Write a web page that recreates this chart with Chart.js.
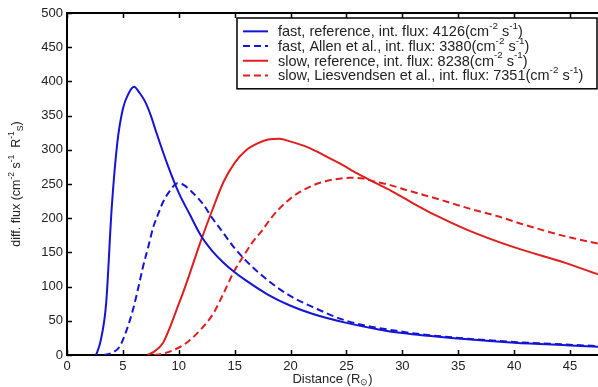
<!DOCTYPE html>
<html>
<head>
<meta charset="utf-8">
<script src="https://cdn.jsdelivr.net/npm/chart.js@4/dist/chart.umd.min.js"></script>
<style>
  html, body { margin: 0; padding: 0; background: #fff; }
  #wrap { width: 598px; height: 387px; position: relative; }
</style>
</head>
<body>
<div id="wrap"><canvas id="chart-canvas"></canvas></div>
<script>
// Tick labels
const X_TICKS = [0, 5, 10, 15, 20, 25, 30, 35, 40, 45];
const Y_TICKS = [0, 50, 100, 150, 200, 250, 300, 350, 400, 450, 500];

// fast wind, reference
const fastRefX = [2.6, 3.0, 3.5, 4.0, 4.5, 5.0, 5.5, 6.0, 6.5, 7.0, 7.5, 8.0, 9.0, 10, 11, 12, 13, 14, 15, 16, 18, 20, 22, 25, 28, 30, 35, 40, 45, 47.5];
const fastRefY = [0, 20, 75, 215, 310, 360, 382, 392, 383, 370, 350, 325, 278, 237, 205, 174, 152, 135, 121, 109, 88, 72, 60, 47, 37, 32, 24, 18, 14, 12];

// fast wind, Allen et al.
const fastAllenX = [3.3, 4.0, 4.7, 5.3, 5.9, 6.4, 6.8, 7.3, 7.7, 8.2, 8.6, 9.2, 9.9, 10.5, 11.2, 12.2, 13, 14, 14.9, 16, 17.9, 20, 22, 25, 30, 35, 40, 45, 47.5];
const fastAllenY = [0, 3, 12, 35, 66, 100, 129, 160, 186, 208, 224, 240, 251, 248, 238, 220, 200, 178, 158, 138, 110, 86, 70, 50, 34, 25, 19, 15, 13];

// slow wind, reference
const slowRefX = [7.2, 7.8, 8.6, 9.2, 9.8, 10.4, 11, 12, 13, 14, 15, 16, 17, 18, 19, 20, 21.5, 23, 24.4, 26, 27.4, 29, 30.4, 33, 35.8, 39.9, 44.7, 47.5];
const slowRefY = [0, 5, 18, 40, 66, 92, 120, 168, 212, 253, 281, 299, 309, 315, 316, 312, 304, 292, 280, 265, 253, 240, 227, 204, 183, 158, 134, 118];

// slow wind, Liesvendsen et al.
const slowLiesX = [7.8, 8.3, 9.5, 10.7, 12, 13.1, 14, 14.9, 15.8, 16.6, 17.5, 18.2, 19, 20, 20.8, 22, 22.9, 24, 25.3, 26.5, 27.4, 29, 30.4, 33.4, 36, 38.7, 41, 44.7, 47.5];
const slowLiesY = [0, 1, 7, 18, 38, 61, 90, 121, 145, 165, 183, 199, 214, 229, 238, 248, 253, 257, 259, 258, 254, 248, 241, 227, 214, 202, 190, 173, 163];

const SERIES_LABELS = [
  'fast, reference, int. flux: 4126(cm^{-2} s^{-1})',
  'fast, Allen et al., int. flux: 3380(cm^{-2} s^{-1})',
  'slow, reference, int. flux: 8238(cm^{-2} s^{-1})',
  'slow, Liesvendsen et al., int. flux: 7351(cm^{-2} s^{-1})',
];

const X_TITLE = 'Distance (R_{\u2299})';
const Y_TITLE = 'diff. flux (cm^{-2} s^{-1}  R^{-1}_{S})';

const BLUE = '#1414d6';
const RED = '#e01e1e';
const FONT = '"Liberation Sans", Arial, sans-serif';

function toPoints(xs, ys) {
  return xs.map((x, i) => ({ x, y: ys[i] }));
}

/** Draw text with ^{sup} and _{sub} parts. */
function drawRich(ctx, text, x, y, size, align) {
  const parts = text.split(/(\^\{[^}]*\}|_\{[^}]*\})/).filter(p => p !== '');
  const segs = parts.map(p => {
    if (p.startsWith('^{')) return { t: p.slice(2, -1), s: size * 0.68, dy: -size * 0.42 };
    if (p.startsWith('_{')) return { t: p.slice(2, -1), s: size * 0.68, dy: size * 0.28 };
    return { t: p, s: size, dy: 0 };
  });
  let total = 0;
  segs.forEach(sg => {
    ctx.font = `${sg.s}px ${FONT}`;
    sg.w = ctx.measureText(sg.t).width;
    total += sg.w;
  });
  let cx = align === 'center' ? x - total / 2 : x;
  ctx.textBaseline = 'middle';
  ctx.textAlign = 'left';
  segs.forEach(sg => {
    ctx.font = `${sg.s}px ${FONT}`;
    ctx.fillText(sg.t, cx, y + sg.dy);
    cx += sg.w;
  });
}

// MATLAB-like frame: top line, inward ticks, axis titles, boxed legend
const matlabFrame = {
  id: 'matlabFrame',
  afterDraw(chart, args, opts) {
    const { ctx, chartArea: ca, scales } = chart;
    ctx.save();
    ctx.strokeStyle = '#000';
    ctx.lineWidth = 2;
    ctx.beginPath();
    ctx.moveTo(ca.left - 1, ca.top);
    ctx.lineTo(ca.right, ca.top);
    ctx.stroke();

    ctx.lineWidth = 1.5;
    ctx.beginPath();
    X_TICKS.forEach(v => {
      const px = Math.round(scales.x.getPixelForValue(v)) + 0.5;
      ctx.moveTo(px, ca.bottom);
      ctx.lineTo(px, ca.bottom - 5);
      ctx.moveTo(px, ca.top);
      ctx.lineTo(px, ca.top + 5);
    });
    Y_TICKS.forEach(v => {
      const py = Math.round(scales.y.getPixelForValue(v)) + 0.5;
      ctx.moveTo(ca.left, py);
      ctx.lineTo(ca.left + 5, py);
    });
    ctx.stroke();

    // axis titles
    ctx.fillStyle = '#222';
    drawRich(ctx, X_TITLE, (ca.left + ca.right) / 2, opts.xTitleY, 13, 'center');
    ctx.save();
    ctx.translate(opts.yTitleX, (ca.top + ca.bottom) / 2);
    ctx.rotate(-Math.PI / 2);
    drawRich(ctx, Y_TITLE, 0, 0, 12.5, 'center');
    ctx.restore();

    // legend box
    const lg = opts.legend;
    const right = ca.right - 1;
    const n = chart.data.datasets.length;
    const bottom = lg.top + lg.padTop + lg.rowHeight * n + lg.padBottom;
    ctx.fillStyle = '#fff';
    ctx.fillRect(lg.left, lg.top, right - lg.left, bottom - lg.top);
    ctx.strokeStyle = '#000';
    ctx.lineWidth = 1.5;
    ctx.strokeRect(lg.left, lg.top, right - lg.left, bottom - lg.top);
    chart.data.datasets.forEach((ds, i) => {
      const cy = lg.top + lg.padTop + lg.rowHeight * (i + 0.5);
      ctx.strokeStyle = ds.borderColor;
      ctx.lineWidth = 2;
      ctx.setLineDash(ds.borderDash || []);
      ctx.beginPath();
      ctx.moveTo(lg.left + 6, cy);
      ctx.lineTo(lg.left + 31, cy);
      ctx.stroke();
      ctx.setLineDash([]);
      ctx.fillStyle = '#222';
      drawRich(ctx, ds.label, lg.left + 41, cy + 1, 14.5, 'left');
    });
    ctx.restore();
  },
};

const canvas = document.getElementById('chart-canvas');
new Chart(canvas, {
  type: 'line',
  data: {
    datasets: [
      { label: SERIES_LABELS[0], data: toPoints(fastRefX, fastRefY), borderColor: BLUE, borderDash: [] },
      { label: SERIES_LABELS[1], data: toPoints(fastAllenX, fastAllenY), borderColor: BLUE, borderDash: [7, 4] },
      { label: SERIES_LABELS[2], data: toPoints(slowRefX, slowRefY), borderColor: RED, borderDash: [] },
      { label: SERIES_LABELS[3], data: toPoints(slowLiesX, slowLiesY), borderColor: RED, borderDash: [7, 4] },
    ].map(ds => ({
      ...ds,
      backgroundColor: 'transparent',
      borderWidth: 2,
      pointRadius: 0,
      cubicInterpolationMode: 'monotone',
      fill: false,
    })),
  },
  options: {
    responsive: true,
    maintainAspectRatio: false,
    animation: false,
    devicePixelRatio: 1,
    layout: { padding: { top: 13, right: 0, left: 0, bottom: 0 } },
    plugins: {
      legend: { display: false },
      tooltip: { enabled: false },
      matlabFrame: {
        xTitleY: 379,
        yTitleX: 17,
        legend: { left: 237, top: 18, rowHeight: 14.7, padTop: 6, padBottom: 6 },
      },
    },
    scales: {
      x: {
        type: 'linear',
        min: 0,
        max: 47.5,
        afterFit: s => { s.height = 32; },
        afterBuildTicks: s => { s.ticks = X_TICKS.map(v => ({ value: v })); },
        ticks: { color: '#222', padding: 4, maxRotation: 0, font: { family: FONT, size: 13 } },
        grid: { display: true, drawOnChartArea: false, drawTicks: false },
        border: { color: '#000', width: 2 },
      },
      y: {
        min: 0,
        max: 500,
        afterFit: s => { s.width = 67; },
        afterBuildTicks: s => { s.ticks = Y_TICKS.map(v => ({ value: v })); },
        ticks: { color: '#222', padding: 4, font: { family: FONT, size: 13 } },
        grid: { display: true, drawOnChartArea: false, drawTicks: false },
        border: { color: '#000', width: 2 },
      },
    },
  },
  plugins: [matlabFrame],
});
</script>
</body>
</html>
